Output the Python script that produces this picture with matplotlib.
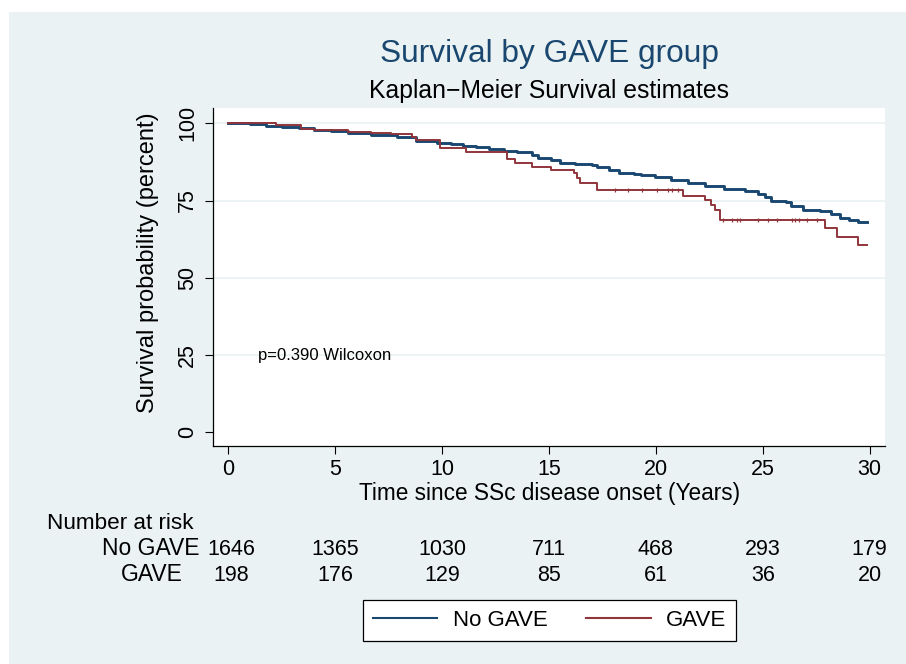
import matplotlib
matplotlib.use("Agg")
import matplotlib.pyplot as plt
import matplotlib.transforms as mtransforms
from matplotlib.patches import Rectangle
import numpy as np

plt.rcParams['font.family'] = ['Liberation Sans', 'DejaVu Sans']

NAVY = '#1A476F'
MAROON = '#90353B'
BG = '#EAF2F3'

# Kaplan-Meier estimates (years, percent)
nogave_t = [0, 1.0, 1.75, 2.5, 3.3, 4.0, 4.8, 5.6, 6.7, 7.9, 8.8, 9.75, 10.4, 11.0,
            11.6, 12.2, 12.9, 13.5, 14.2, 14.5, 15.1, 15.5, 16.2, 17.0, 17.25, 17.8,
            18.3, 19.0, 19.3, 19.95, 20.7, 21.5, 22.3, 23.2, 24.15, 24.8, 25.1, 25.4,
            26.1, 26.3, 26.9, 27.7, 28.2, 28.6, 29.05, 29.45, 29.9]
nogave_s = [100, 99.8, 99.2, 98.8, 98.4, 97.8, 97.4, 97.0, 96.3, 95.5, 94.4, 93.6, 93.2,
            92.7, 92.2, 91.7, 91.1, 90.6, 89.6, 88.9, 88.0, 87.2, 86.9, 86.6, 85.9, 85.0,
            83.9, 83.7, 83.2, 82.6, 81.5, 80.7, 79.8, 78.8, 78.0, 77.0, 76.0, 75.0,
            74.5, 73.1, 71.8, 71.6, 70.7, 69.3, 68.8, 68.0, 68.0]

gave_t = [0, 2.25, 3.4, 4.0, 5.6, 6.7, 7.6, 8.6, 8.8, 9.9, 11.1, 13.05, 13.4, 14.2, 15.1,
          16.15, 16.3, 16.45, 17.23, 21.28, 22.32, 22.57, 22.75, 22.99, 27.92, 28.46,
          29.47, 29.88]
gave_s = [100, 99.4, 98.3, 97.8, 97.3, 96.7, 96.4, 95.7, 94.6, 92.1, 90.6, 88.6, 87.0,
          85.9, 84.8, 83.9, 82.4, 80.8, 78.3, 76.6, 75.2, 73.4, 71.8, 68.8, 66.0, 63.3,
          60.5, 60.5]
gave_censored = [18.09, 18.71, 19.34, 20.04, 20.58, 20.74, 21.05, 23.12, 23.54, 23.81,
                 23.93, 24.79, 25.26, 25.65, 26.38, 26.51, 26.71, 27.05, 27.52]

risk_times = [0, 5, 10, 15, 20, 25, 30]
risk_nogave = [1646, 1365, 1030, 711, 468, 293, 179]
risk_gave = [198, 176, 129, 85, 61, 36, 20]

W, H = 906, 664
fig = plt.figure(figsize=(W / 100, H / 100), dpi=100)
fig.patch.set_facecolor('white')
fig.patches.append(Rectangle((9 / W, 0), (W - 9) / W, (H - 12) / H,
                             transform=fig.transFigure, facecolor=BG,
                             edgecolor='none', zorder=-10))


def fy(py):
    # pixel row (from top) -> figure fraction
    return 1 - py / H


ax = fig.add_axes([213.3 / W, fy(445.7), (885 - 213.3) / W, (445.7 - 108) / H])
ax.set_facecolor('white')

for g in [25, 50, 75, 100]:
    ax.axhline(g, color=BG, lw=1.3, zorder=1)

ax.plot(nogave_t, nogave_s, drawstyle='steps-post', color=NAVY, lw=2.1, zorder=3,
        label='No GAVE')
ax.plot(gave_t, gave_s, drawstyle='steps-post', color=MAROON, lw=1.4, zorder=4,
        label='GAVE')
idx = np.searchsorted(gave_t, gave_censored, side='right') - 1
ax.plot(gave_censored, np.array(gave_s)[idx], ls='none', marker='|', ms=3, mew=0.9,
        color=MAROON, zorder=4)

ax.set_xlim(-0.70, 30.72)
ax.set_ylim(-4.34, 104.95)
ax.set_xticks(risk_times)
ax.set_yticks([0, 25, 50, 75, 100])
for s in ['top', 'right']:
    ax.spines[s].set_visible(False)
for s in ['left', 'bottom']:
    ax.spines[s].set_linewidth(0.9)
ax.tick_params(direction='out', length=6, width=0.8, labelsize=15.5)
ax.tick_params(axis='x', pad=3.5)
ax.tick_params(axis='y', pad=5)
for lab in ax.get_yticklabels():
    lab.set_rotation(90)
    lab.set_va('center')

fig.text(550 / W, fy(500), 'Time since SSc disease onset (Years)', fontsize=16.3,
         ha='center', va='baseline')
fig.text(148 / W, fy(262.5), 'Survival probability (percent)', fontsize=17,
         rotation=90, ha='center', va='center')

ax.text(1.39, 25, 'p=0.390 Wilcoxon', fontsize=12, va='center', ha='left', zorder=5)

cx = (213.3 + 885) / 2 / W
fig.text(cx, fy(61.7), 'Survival by GAVE group', fontsize=22.8, color=NAVY,
         ha='center', va='baseline')
fig.text(cx, fy(97.7), 'Kaplan\u2212Meier Survival estimates', fontsize=17.8,
         ha='center', va='baseline')

# number at risk table
tr = mtransforms.blended_transform_factory(ax.transData, fig.transFigure)
fig.text(47 / W, fy(529), 'Number at risk', fontsize=16.2, ha='left', va='baseline')
fig.text(200 / W, fy(555), 'No GAVE', fontsize=16.5, ha='right', va='baseline')
fig.text(183 / W, fy(581), 'GAVE', fontsize=16.5, ha='right', va='baseline')
for t, a, b in zip(risk_times, risk_nogave, risk_gave):
    xt = t + 0.15 if t == 0 else t
    ax.text(xt, fy(555), str(a), transform=tr, fontsize=15.5, ha='center', va='baseline')
    ax.text(xt, fy(581), str(b), transform=tr, fontsize=15.5, ha='center', va='baseline')

leg = fig.legend(loc='center', bbox_to_anchor=(549.5 / W, fy(620)), ncol=2,
                 fontsize=16, frameon=True, fancybox=False, edgecolor='black',
                 facecolor='white', framealpha=1, handlelength=2.9,
                 handletextpad=0.7, columnspacing=1.75, borderpad=0.45)
leg.get_frame().set_linewidth(0.9)
for line in leg.get_lines():
    line.set_linewidth(1.5)

fig.savefig('out.png', dpi=100)
